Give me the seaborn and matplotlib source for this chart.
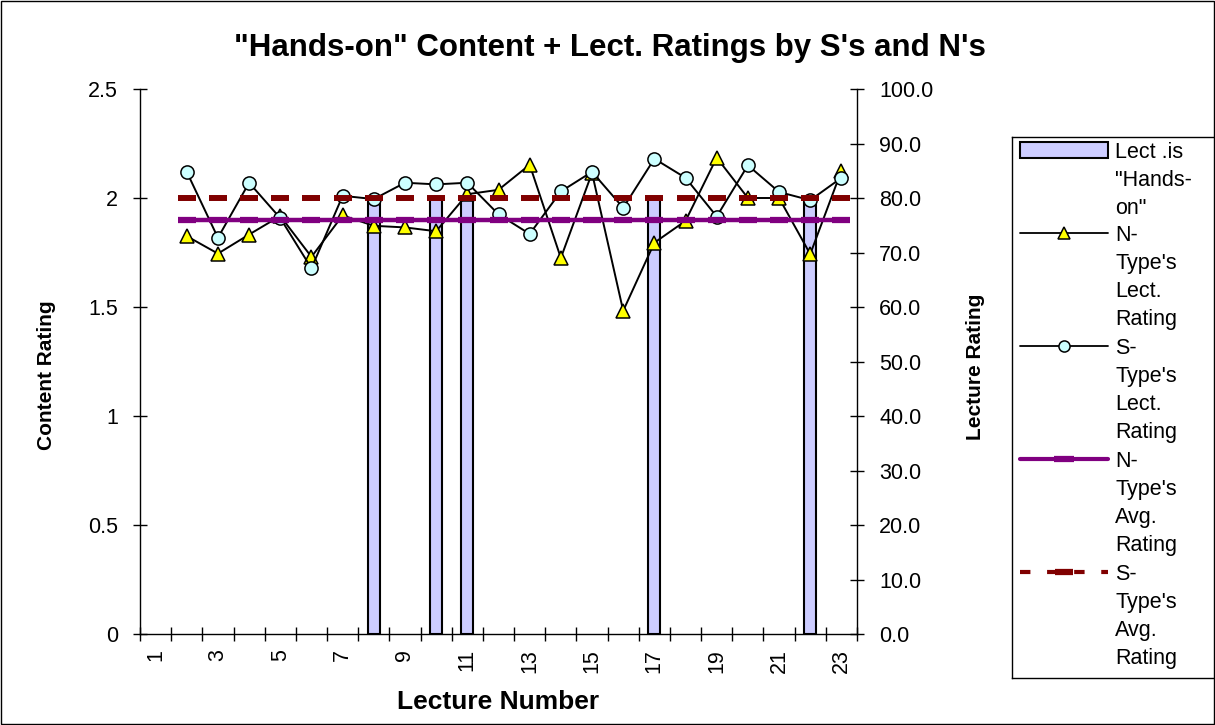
import matplotlib
matplotlib.use("Agg")
import matplotlib.pyplot as plt
from matplotlib.patches import Rectangle
import seaborn as sns

# lecture numbers that have ratings (lecture 1 has none)
lectures = [2, 3, 4, 5, 6, 7, 8, 9, 10, 11, 12, 13, 14, 15, 16, 17, 18, 19, 20, 21, 22, 23]
# lecture ratings on the 0-100 scale (right axis)
n_lect_rating = [73.0, 69.8, 73.3, 76.7, 69.2, 76.8, 74.9, 74.6, 73.9, 80.7, 81.5,
                 86.1, 69.0, 84.6, 59.3, 71.8, 75.8, 87.4, 80.0, 80.0, 69.7, 85.0]
s_lect_rating = [84.8, 72.7, 82.8, 76.3, 67.1, 80.4, 79.8, 82.8, 82.5, 82.8, 77.0,
                 73.4, 81.2, 84.8, 78.2, 87.2, 83.7, 76.6, 86.0, 81.1, 79.6, 83.7]
n_avg_rating = 76.0
s_avg_rating = 80.0

# "hands-on" lectures, content rating (left axis)
hands_on_lectures = [8, 10, 11, 17, 22]
hands_on_content = [2.0, 2.0, 2.0, 2.0, 2.0]

x_tick_labels = ['1', '3', '5', '7', '9', '11', '13', '15', '17', '19', '21', '23']
left_ticks = [0, 0.5, 1, 1.5, 2, 2.5]
left_tick_labels = ['0', '0.5', '1', '1.5', '2', '2.5']
right_ticks = [0, 10, 20, 30, 40, 50, 60, 70, 80, 90, 100]

legend_labels = ['Lect .is\n"Hands-\non"',
                 "N-\nType's\nLect.\nRating",
                 "S-\nType's\nLect.\nRating",
                 "N-\nType's\nAvg.\nRating",
                 "S-\nType's\nAvg.\nRating"]

title = '"Hands-on" Content + Lect. Ratings by S\'s and N\'s'

sns.set_style("ticks")
plt.rcParams['font.family'] = ['Liberation Sans', 'DejaVu Sans']
plt.rcParams['text.color'] = 'black'
plt.rcParams['axes.labelcolor'] = 'black'
plt.rcParams['xtick.color'] = 'black'
plt.rcParams['ytick.color'] = 'black'

W, H = 1215, 725
fig = plt.figure(figsize=(W / 100, H / 100), dpi=100)
ax = fig.add_axes([140 / W, 1 - 634 / H, 717 / W, 545 / H])

# bars for hands-on lectures
sns.barplot(x=hands_on_lectures, y=hands_on_content, native_scale=True, width=0.38,
            color='#CCCCFF', saturation=1, edgecolor='black', linewidth=1.5, ax=ax)
ax.set_xlim(0.5, 23.5)
ax.set_ylim(0, 2.5)

ax2 = ax.twinx()
ax2.set_ylim(0, 100)

sns.lineplot(x=lectures, y=n_lect_rating, ax=ax2, color='black', linewidth=1.4,
             marker='^', markersize=9.5, markerfacecolor='#FFFF00',
             markeredgecolor='black', markeredgewidth=1.1)
sns.lineplot(x=lectures, y=s_lect_rating, ax=ax2, color='black', linewidth=1.4,
             marker='o', markersize=9.5, markerfacecolor='#CCFFFF',
             markeredgecolor='black', markeredgewidth=1.1)
ax2.plot(lectures, [n_avg_rating] * len(lectures), color='#800080', lw=3.2,
         marker='_', ms=12.6, mew=4.5)
ax2.plot(lectures, [s_avg_rating] * len(lectures), color='#800000', ls='none',
         marker='_', ms=12.6, mew=4.3)

# axes styling
ax.set_yticks(left_ticks)
ax.set_yticklabels(left_tick_labels)
ax2.set_yticks(right_ticks)
ax2.set_yticklabels([f"{v:.1f}" for v in right_ticks])
ax.set_xticks([int(t) for t in x_tick_labels])
ax.set_xticklabels(x_tick_labels, rotation=90)
ax.set_xticks([i + 0.5 for i in range(0, 24)], minor=True)

ax.tick_params(axis='y', direction='inout', length=10, width=1, pad=11,
               labelsize=15.5, colors='black')
ax2.tick_params(axis='y', direction='inout', length=10, width=1, pad=11,
                labelsize=15.5, colors='black')
ax.tick_params(axis='x', which='major', length=0, pad=11, labelsize=15.5)
ax.tick_params(axis='x', which='minor', direction='inout', length=10, width=1)
ax2.tick_params(axis='x', which='both', length=0)

for a in (ax, ax2):
    a.spines['top'].set_visible(False)
    for s in a.spines.values():
        s.set_color('black')
        s.set_linewidth(1)
ax.spines['right'].set_visible(False)
ax2.spines['left'].set_visible(False)
ax2.spines['bottom'].set_visible(False)

ax.set_ylabel('Content Rating', fontsize=15, fontweight='bold')
ax.yaxis.set_label_coords((56 - 140) / 717, 0.475)
ax2.set_ylabel('Lecture Rating', fontsize=15, fontweight='bold')
ax2.yaxis.set_label_coords((966 - 140) / 717, 0.49)
ax.set_xlabel('Lecture Number', fontsize=19, fontweight='bold')
ax.xaxis.set_label_coords(0.5, (634 - 690) / 545)

fig.text(0.502, 1 - 48 / H, title, ha='center', va='center',
         fontsize=22.5, fontweight='bold')

# legend box, drawn by hand in pixel units
lax = fig.add_axes([1012 / W, 1 - 678 / H, 260 / W, (678 - 137) / H])
lax.set_xlim(1012, 1272)
lax.set_ylim(678, 137)
lax.set_xticks([])
lax.set_yticks([])
for s in lax.spines.values():
    s.set_color('black')
    s.set_linewidth(1)

entry_top = [150, 233, 346, 459, 572]
y0 = entry_top[0]
lax.add_patch(Rectangle((1020, y0 - 8), 88, 16, fc='#CCCCFF', ec='black', lw=1.5))
y1 = entry_top[1]
lax.plot([1020, 1108], [y1, y1], color='black', lw=1.3)
lax.plot([1064], [y1], marker='^', ms=8.5, mfc='#FFFF00', mec='black', mew=1.1)
y2 = entry_top[2]
lax.plot([1020, 1108], [y2, y2], color='black', lw=1.3)
lax.plot([1064], [y2], marker='o', ms=8, mfc='#CCFFFF', mec='black', mew=1.1)
y3 = entry_top[3]
lax.plot([1020, 1108], [y3, y3], color='#800080', lw=3)
lax.plot([1064], [y3], marker='_', ms=15, mew=4.5, color='#800080')
y4 = entry_top[4]
lax.plot([1020, 1108], [y4, y4], color='#800000', lw=3, dashes=(2.5, 4))
lax.plot([1064], [y4], marker='_', ms=13, mew=4.5, color='#800000')

for i, label in enumerate(legend_labels):
    for k, line in enumerate(label.split('\n')):
        lax.text(1115, entry_top[i] + 28.2 * k + 7.5, line, fontsize=15.5,
                 va='baseline', ha='left')

fig.patches.append(Rectangle((0.001, 0.001), 0.998, 0.997, transform=fig.transFigure,
                             fill=False, ec='black', lw=1))

fig.savefig('out.png', dpi=100)
